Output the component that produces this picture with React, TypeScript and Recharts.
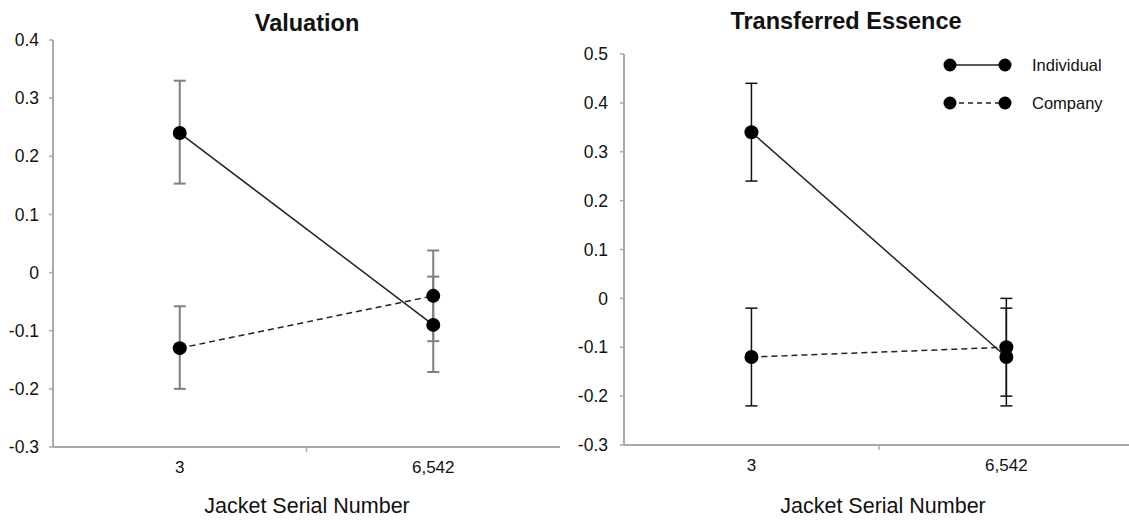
import React from "react";
import { LineChart, Line, XAxis, YAxis, ErrorBar, Legend } from "recharts";

// ---------- data ----------
const categories = ["3", "6,542"];
const categoryPositions = [0.5, 1.5];
const dividerTicks = [1];

const valuationIndividual = [0.24, -0.09];
const valuationIndividualLow = [0.153, -0.171];
const valuationIndividualHigh = [0.33, -0.007];
const valuationCompany = [-0.13, -0.04];
const valuationCompanyLow = [-0.2, -0.118];
const valuationCompanyHigh = [-0.058, 0.038];

const essenceIndividual = [0.34, -0.12];
const essenceIndividualLow = [0.24, -0.22];
const essenceIndividualHigh = [0.44, -0.02];
const essenceCompany = [-0.12, -0.1];
const essenceCompanyLow = [-0.22, -0.2];
const essenceCompanyHigh = [-0.02, 0.0];

const valuationTicks = [-0.3, -0.2, -0.1, 0, 0.1, 0.2, 0.3, 0.4];
const essenceTicks = [-0.3, -0.2, -0.1, 0, 0.1, 0.2, 0.3, 0.4, 0.5];

const seriesNames = ["Individual", "Company"];
const titles = ["Valuation", "Transferred Essence"];
const xAxisTitle = "Jacket Serial Number";

// ---------- helpers ----------
const FONT = "'Liberation Sans', Arial, Helvetica, sans-serif";
const AXIS_COLOR = "#a9a9a9";

function buildRows(ind, indLow, indHigh, comp, compLow, compHigh) {
  return categories.map((c, i) => ({
    x: categoryPositions[i],
    name: c,
    ind: ind[i],
    indErr: [ind[i] - indLow[i], indHigh[i] - ind[i]],
    comp: comp[i],
    compErr: [comp[i] - compLow[i], compHigh[i] - comp[i]],
  }));
}

const valuationRows = buildRows(
  valuationIndividual, valuationIndividualLow, valuationIndividualHigh,
  valuationCompany, valuationCompanyLow, valuationCompanyHigh
);
const essenceRows = buildRows(
  essenceIndividual, essenceIndividualLow, essenceIndividualHigh,
  essenceCompany, essenceCompanyLow, essenceCompanyHigh
);

const fmtY = (v) => (Math.abs(v) < 1e-9 ? "0" : v.toFixed(1));

const XTick = (props) => {
  const { x, y, payload } = props;
  const idx = categoryPositions.indexOf(payload.value);
  if (idx < 0) {
    return <line x1={x} x2={x} y1={y} y2={y + 5} stroke={AXIS_COLOR} strokeWidth={1.5} />;
  }
  return (
    <text
      x={x}
      y={y + 20}
      textAnchor="middle"
      dominantBaseline="central"
      fontSize={17}
      fontFamily={FONT}
      fill="#111"
    >
      {categories[idx]}
    </text>
  );
};

const renderLegend = () => (
  <svg width={200} height={70}>
    {seriesNames.map((n, i) => {
      const y = 13 + i * 38;
      return (
        <g key={n}>
          <line
            x1={8}
            x2={63}
            y1={y}
            y2={y}
            stroke="#222"
            strokeWidth={1.5}
            strokeDasharray={i === 1 ? "5 4" : undefined}
          />
          <circle cx={8} cy={y} r={6.5} fill="#000" />
          <circle cx={63} cy={y} r={6.5} fill="#000" />
          <text x={90} y={y} dominantBaseline="central" fontSize={16.5} fontFamily={FONT} fill="#111">
            {n}
          </text>
        </g>
      );
    })}
  </svg>
);

const Panel = ({ rows, ticks, domainY, domainX, width, height, margin, yWidth, xHeight, tickMargin, barColor, barWidth, legend }) => (
  <LineChart width={width} height={height} data={rows} margin={margin}>
    <XAxis
      dataKey="x"
      type="number"
      domain={domainX}
      ticks={[...categoryPositions, ...dividerTicks]}
      interval={0}
      tick={<XTick />}
      tickLine={false}
      tickSize={0}
      tickMargin={0}
      height={xHeight}
      axisLine={{ stroke: AXIS_COLOR, strokeWidth: 2 }}
      allowDataOverflow
    />
    <YAxis
      type="number"
      domain={domainY}
      ticks={ticks}
      interval={0}
      width={yWidth}
      tickFormatter={fmtY}
      tickSize={4}
      tickMargin={tickMargin}
      tick={{ fontSize: 17.5, fill: "#111", fontFamily: FONT }}
      tickLine={{ stroke: AXIS_COLOR, strokeWidth: 1.5 }}
      axisLine={{ stroke: AXIS_COLOR, strokeWidth: 2 }}
      allowDataOverflow
    />
    {legend && (
      <Legend
        layout="horizontal"
        verticalAlign="middle"
        align="center"
        content={renderLegend}
        wrapperStyle={{ position: "absolute", left: 378, top: 52, width: 200, height: 70 }}
      />
    )}
    <Line
      dataKey="ind"
      name={seriesNames[0]}
      stroke="#222"
      strokeWidth={1.5}
      dot={{ r: 7, fill: "#000", stroke: "none" }}
      activeDot={false}
      isAnimationActive={false}
    >
      <ErrorBar dataKey="indErr" direction="y" width={6} stroke={barColor} strokeWidth={barWidth} />
    </Line>
    <Line
      dataKey="comp"
      name={seriesNames[1]}
      stroke="#222"
      strokeWidth={1.5}
      strokeDasharray="6 4"
      dot={{ r: 7, fill: "#000", stroke: "none" }}
      activeDot={false}
      isAnimationActive={false}
    >
      <ErrorBar dataKey="compErr" direction="y" width={6} stroke={barColor} strokeWidth={barWidth} />
    </Line>
  </LineChart>
);

const textStyle = {
  position: "absolute",
  fontFamily: FONT,
  color: "#111",
  whiteSpace: "nowrap",
  transform: "translate(-50%, -50%)",
  lineHeight: 1,
};

export default function App() {
  return (
    <div style={{ position: "absolute", left: 0, top: 0, width: 1129, height: 520, background: "#fff", overflow: "hidden" }}>
      <div style={{ position: "absolute", left: 0, top: 0 }}>
        <Panel
          rows={valuationRows}
          ticks={valuationTicks}
          domainY={[-0.3, 0.4]}
          domainX={[0, 2]}
          width={570}
          height={520}
          margin={{ top: 40, right: 10, bottom: 0, left: 8 }}
          yWidth={45}
          xHeight={73}
          tickMargin={10}
          barColor="#7f7f7f"
          barWidth={2}
          legend={false}
        />
      </div>
      <div style={{ position: "absolute", left: 564, top: 0 }}>
        <Panel
          rows={essenceRows}
          ticks={essenceTicks}
          domainY={[-0.3, 0.5]}
          domainX={[0, 2.04]}
          width={580}
          height={520}
          margin={{ top: 54, right: 0, bottom: 0, left: 10 }}
          yWidth={50}
          xHeight={75}
          tickMargin={12}
          barColor="#111"
          barWidth={1.5}
          legend={true}
        />
      </div>
      <div style={{ ...textStyle, left: 307, top: 24, fontSize: 23.5, fontWeight: "bold" }}>{titles[0]}</div>
      <div style={{ ...textStyle, left: 846, top: 22, fontSize: 23.5, fontWeight: "bold" }}>{titles[1]}</div>
      <div style={{ ...textStyle, left: 307, top: 507, fontSize: 21.5 }}>{xAxisTitle}</div>
      <div style={{ ...textStyle, left: 883, top: 507, fontSize: 21.5 }}>{xAxisTitle}</div>
    </div>
  );
}
